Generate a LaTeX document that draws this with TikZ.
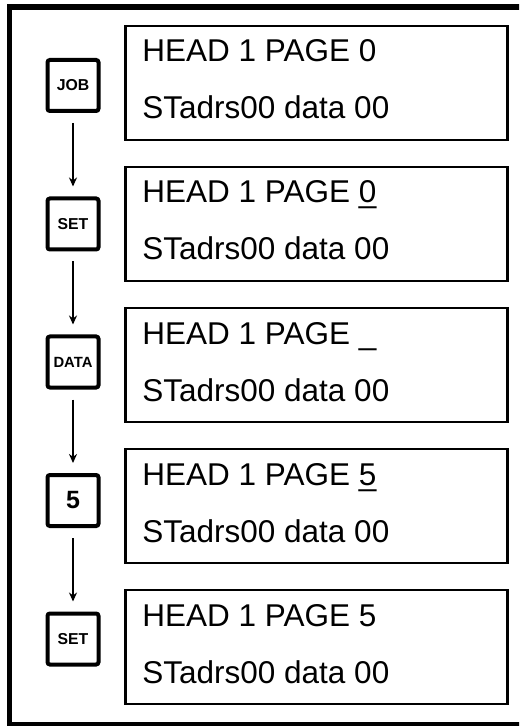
\documentclass[tikz,border=0pt]{standalone}
\usepackage{fontspec}
\setmainfont{Liberation Sans}
\usetikzlibrary{arrows.meta,positioning}
\newcommand\curpos[1]{\rlap{\_}#1}

\begin{document}
\begin{tikzpicture}[x=0.5pt,y=-0.5pt,>={Stealth[length=4.5pt,width=4pt]}]
\tikzstyle{key}=[draw,line width=2pt,rounded corners=1.2pt,minimum size=25.5pt,inner sep=0pt,font=\bfseries\fontsize{7.9}{9}\selectfont]
\tikzstyle{disp}=[draw,line width=1.35pt,minimum width=191pt,minimum height=57pt]
\tikzstyle{ln}=[anchor=base west,inner sep=0pt,font=\fontsize{15.75}{18}\selectfont]
\tikzstyle{keyflow}=[->,line width=0.85pt,shorten <=5pt,shorten >=5pt]
\useasboundingbox (0,0) rectangle (519,726);
\begin{scope}
\clip (0,0) rectangle (519,726);
\draw[line width=2.7pt] (530,7) -- (9.5,7) -- (9.5,725) -- (530,725);
\end{scope}
% display panels
\node[disp] (d1) at (316.5,83) {};
\node[ln] (d1a) at (142,62) {HEAD 1 PAGE 0};
\node[ln] (d1b) at (142,119) {STadrs00 data 00};
\node[disp] (d2) at (316.5,224) {};
\node[ln] (d2a) at (142,203) {HEAD 1 PAGE \curpos{0}};
\node[ln] (d2b) at (142,260) {STadrs00 data 00};
\node[disp] (d3) at (316.5,365) {};
\node[ln] (d3a) at (142,344) {HEAD 1 PAGE \_};
\node[ln] (d3b) at (142,401) {STadrs00 data 00};
\node[disp] (d4) at (316.5,506) {};
\node[ln] (d4a) at (142,485) {HEAD 1 PAGE \curpos{5}};
\node[ln] (d4b) at (142,542) {STadrs00 data 00};
\node[disp] (d5) at (316.5,647) {};
\node[ln] (d5a) at (142,626) {HEAD 1 PAGE 5};
\node[ln] (d5b) at (142,683) {STadrs00 data 00};
% keys
\node[key] (k1) at (73,85.5) {JOB};
\node[key] (k2) at (73,224) {SET};
\node[key,font=\bfseries\fontsize{7.4}{9}\selectfont] (k3) at (73,362) {DATA};
\node[key,font=\bfseries\fontsize{12.5}{14}\selectfont] (k4) at (73,500.5) {5};
\node[key] (k5) at (73,639) {SET};
\draw[keyflow] (k1) -- (k2); \draw[keyflow] (k2) -- (k3);
\draw[keyflow] (k3) -- (k4); \draw[keyflow] (k4) -- (k5);
\end{tikzpicture}
\end{document}
